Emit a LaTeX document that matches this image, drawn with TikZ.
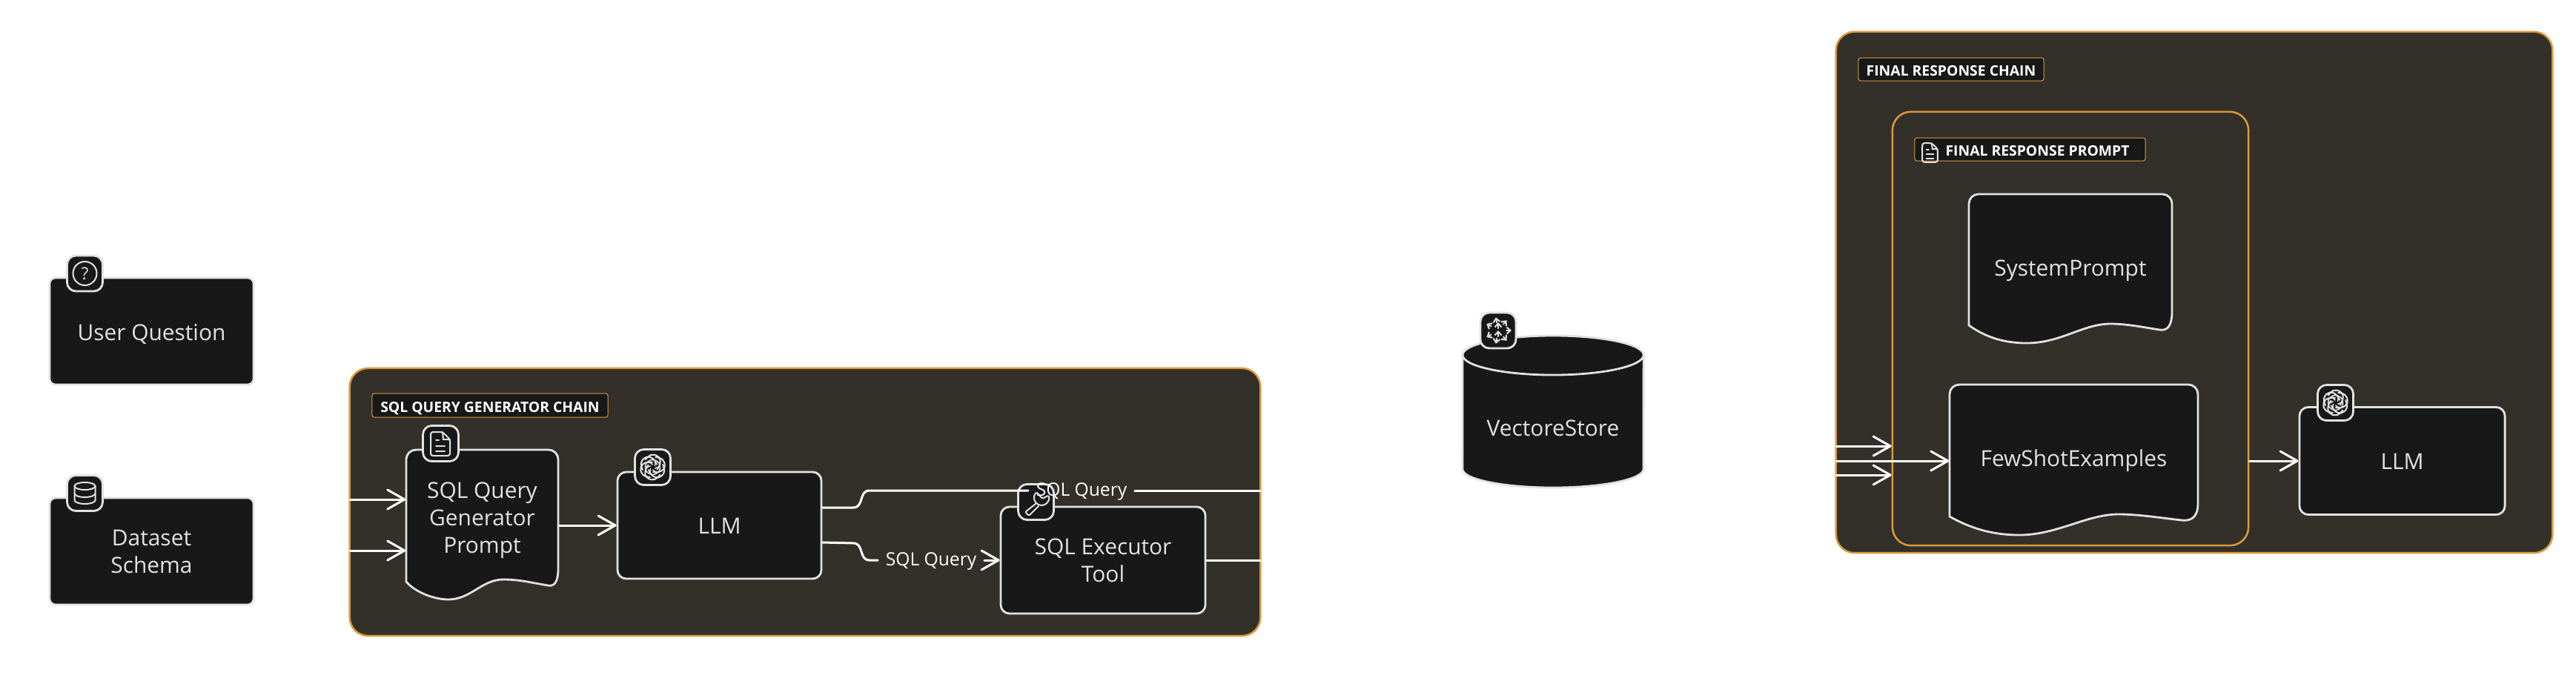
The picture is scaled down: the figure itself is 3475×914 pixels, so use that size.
\documentclass[tikz,border=0pt]{standalone}
\usepackage{fontspec}
\setmainfont{Open Sans}
\usetikzlibrary{arrows.meta}

\definecolor{boxfill}{HTML}{181818}
\definecolor{boxline}{HTML}{E2E2E2}
\definecolor{chainfill}{HTML}{33302A}
\definecolor{chainline}{HTML}{DD9A3C}

\tikzset{
  nodebox/.style={rectangle, draw=boxline, fill=boxfill, text=boxline, line width=0.028cm,
    rounded corners=0.12cm, inner sep=0pt, align=center, font=\fontsize{8.5}{10.5}\selectfont},
  doctext/.style={rectangle, text=boxline, inner sep=0pt, align=center, font=\fontsize{8.5}{10.5}\selectfont},
  docbox/.style={draw=boxline, fill=boxfill, line width=0.028cm},
  iconbox/.style={rectangle, draw=boxline, fill=boxfill, line width=0.028cm, rounded corners=0.12cm,
    minimum size=0.48cm, inner sep=0pt},
  iconline/.style={draw=boxline, line width=0.02cm},
  chainbox/.style={rectangle, draw=chainline, fill=chainfill, line width=0.025cm, rounded corners=0.25cm, inner sep=0pt},
  chainlabel/.style={rectangle, draw=chainline, fill=boxfill, text=white, line width=0.01cm, rounded corners=0.03cm,
    inner sep=0pt, text height=0.184cm, text depth=0pt, font=\fontsize{5.5}{7}\selectfont\bfseries},
  flowline/.style={draw=white, line width=0.03cm},
  flowarrow/.style={flowline, -{Straight Barb[length=0.23cm,width=0.26cm,round]}},
  flowlabel/.style={text=white, inner xsep=0.1cm, inner ysep=0pt, font=\fontsize{7}{9}\selectfont},
  smallarrow/.style={iconline, -{Straight Barb[length=0.05cm,width=0.09cm]}}
}

% openai knot, six rotated hooks
\newcommand{\gptlogo}[2]{
\begin{scope}[shift={(#1,#2)}]
\foreach \a in {0,60,...,300} {
\draw[iconline, rotate=\a, rounded corners=0.05cm] (-10,-10) -- (-3,-18) -- (9,-15) -- (11,-5) -- (6,3);
\draw[iconline, line width=0.015cm, rotate=\a, rounded corners=0.03cm] (-5,-8) -- (-1,-11) -- (4,-9) -- (3,-2);
}
\end{scope}
}

% page with a folded corner
\newcommand{\fileicon}[3]{
\begin{scope}[shift={(#1,#2)}, scale=#3]
\draw[iconline, rounded corners=0.03cm] (3,-16) -- (-13,-16) -- (-13,16) -- (13,16) -- (13,-6) -- cycle;
\draw[iconline] (3,-16) -- (4,-6) -- (13,-6);
\draw[iconline] (-6,-5) -- (-2,-5);
\draw[iconline] (-6,3) -- (6,3);
\draw[iconline] (-6,10) -- (6,10);
\end{scope}
}

\begin{document}
\begin{tikzpicture}[x=0.01cm, y=-0.01cm, cap=round]
\useasboundingbox (0,0) rectangle (3475,914);

% the two loose inputs
\node[nodebox, rounded corners=0.08cm, minimum width=2.75cm, minimum height=1.44cm, text height=0.24cm, text depth=0pt] (usrq) at (204.5,447) {User Question};
\node[iconbox] (usrqicon) at (114.5,369) {};
\draw[iconline] (usrqicon.center) circle[radius=0.16cm];
\node[text=boxline, inner sep=0pt, font=\fontsize{6.5}{7}\selectfont] (usrqmark) at (usrqicon.center) {?};

\node[nodebox, rounded corners=0.08cm, minimum width=2.75cm, minimum height=1.44cm] (schema) at (204.5,744) {Dataset\\Schema};
\node[iconbox] (schemaicon) at (114.5,665.5) {};
\draw[iconline] (114.5,656) ellipse[x radius=0.14cm, y radius=0.05cm];
\draw[iconline] (100.5,656) -- (100.5,675) arc[start angle=180, end angle=360, x radius=0.14cm, y radius=0.05cm] -- (128.5,656);
\draw[iconline] (100.5,666) arc[start angle=180, end angle=360, x radius=0.14cm, y radius=0.05cm];

% sql query generator chain
\node[chainbox, minimum width=12.28cm, minimum height=3.61cm] (sqlchain) at (1086,677.5) {};
\node[chainlabel, minimum width=3.18cm, minimum height=0.32cm] (sqllabel) at (661,547) {SQL QUERY GENERATOR CHAIN};
\coordinate (inone) at (472,674);
\coordinate (intwo) at (472,743);
\coordinate (outone) at (1700,662);
\coordinate (outtwo) at (1700,756);

\draw[docbox] (548,785) [rounded corners=0.13cm] -- (548,607) -- (753,607) [sharp corners] -- (753,767)
  .. controls (753,785) and (748,792) .. (739,790) .. controls (715,786) and (700,782) .. (679,782)
  .. controls (650,782) and (635,809) .. (605,809) .. controls (585,809) and (560,799) .. (548,785) -- cycle;
\node[doctext, minimum width=2.05cm, minimum height=1.86cm] (sqlprompt) at (650.5,702) {SQL Query\\Generator\\Prompt};
\node[iconbox] (sqlprompticon) at (594.5,598.5) {};
\fileicon{594}{599}{1}

\node[nodebox, minimum width=2.75cm, minimum height=1.44cm, text height=0.22cm, text depth=0pt] (llmone) at (970.5,709) {LLM};
\node[iconbox] (llmoneicon) at (880.5,630.5) {};
\gptlogo{880.5}{630.5}

\node[nodebox, minimum width=2.76cm, minimum height=1.44cm] (executor) at (1488,756) {SQL Executor\\Tool};
\node[iconbox] (executoricon) at (1397.5,677.5) {};
\draw[iconline, rounded corners=0.02cm] (1398.6,664.3) arc[start angle=130, end angle=380, radius=0.10cm] -- (1406,673) -- cycle;
\draw[iconline, rounded corners=0.02cm] (1397,680) -- (1383,691) -- (1388,696) -- (1401,683);

\node[flowlabel] (queryone) at (1459,664) {SQL Query};
\node[flowlabel] (querytwo) at (1256,758) {SQL Query};

\draw[flowarrow] (inone) -- (sqlprompt.west |- inone);
\draw[flowarrow] (intwo) -- (sqlprompt.west |- intwo);
\draw[flowarrow] (sqlprompt.east |- llmone.west) -- (llmone.west);
\draw[flowline] ([yshift=0.24cm]llmone.east) -- (1151,685) .. controls (1166,685) and (1158,662) .. (1173,662) -- (queryone.west |- outone);
\draw[flowline] (queryone.east |- outone) -- (outone);
\draw[flowline] ([yshift=-0.23cm]llmone.east) -- (1151,733) .. controls (1166,733) and (1158,756) .. (1173,756) -- (querytwo.west |- outtwo);
\draw[flowarrow] (querytwo.east |- outtwo) -- (executor.west);
\draw[flowline] (executor.east) -- (outtwo);

% the vector store
\draw[docbox] (1973,479) arc[start angle=180, end angle=0, x radius=1.22cm, y radius=0.26cm] -- (2217,633)
  arc[start angle=0, end angle=-180, x radius=1.22cm, y radius=0.25cm] -- cycle;
\draw[docbox] (1973,479) arc[start angle=180, end angle=360, x radius=1.22cm, y radius=0.27cm];
\node[doctext] (vectorstore) at (2095,578) {VectoreStore};
\node[iconbox] (vectoricon) at (2021,446) {};
\foreach \a in {-150,-100,...,150} {
\draw[smallarrow] ([shift={(\a:11)}]vectoricon.center) -- ([shift={(\a:18)}]vectoricon.center);
}
\foreach \b in {-3,8} {
\draw[smallarrow] ([yshift=-\b*0.01cm]vectoricon.center) -- ([yshift=-\b*0.01cm+0.08cm]vectoricon.center);
}
\fill[boxline] (2019,461) circle[radius=0.02cm];

% final response chain
\node[chainbox, minimum width=9.66cm, minimum height=7.03cm] (finalchain) at (2960,394.5) {};
\node[chainlabel, minimum width=2.50cm, minimum height=0.31cm] (finallabel) at (2632,93.5) {FINAL RESPONSE CHAIN};
\node[chainbox, minimum width=4.80cm, minimum height=5.85cm] (finalprompt) at (2793,443.5) {};
\node[chainlabel, minimum width=3.11cm, minimum height=0.31cm] (promptlabel) at (2738.5,201.5) {\hspace{0.2cm}FINAL RESPONSE PROMPT};
\fileicon{2603.5}{206}{0.8}
\coordinate (inthree) at (2477,602);
\coordinate (infour) at (2477,622);
\coordinate (infive) at (2477,641);

\draw[docbox] (2656,439) [rounded corners=0.13cm] -- (2656,262) -- (2930,262) [sharp corners] -- (2930,420)
  .. controls (2930,438) and (2925,447) .. (2913,445) .. controls (2893,442) and (2870,437) .. (2847,437)
  .. controls (2810,437) and (2780,463) .. (2734,463) .. controls (2705,463) and (2680,456) .. (2656,439) -- cycle;
\node[doctext, minimum width=2.74cm, minimum height=2.00cm] (systemprompt) at (2793,365) {SystemPrompt};

\draw[docbox] (2630,697) [rounded corners=0.13cm] -- (2630,519) -- (2965,519) [sharp corners] -- (2965,680)
  .. controls (2965,695) and (2958,704) .. (2943,702) .. controls (2915,699) and (2885,694) .. (2858,694)
  .. controls (2815,694) and (2775,722) .. (2724,722) .. controls (2690,722) and (2660,714) .. (2630,697) -- cycle;
\node[doctext, minimum width=3.35cm, minimum height=2.06cm] (fewshot) at (2797.5,622) {FewShotExamples};

\node[nodebox, minimum width=2.77cm, minimum height=1.45cm, text height=0.22cm, text depth=0pt] (llmtwo) at (3240.5,622) {LLM};
\node[iconbox] (llmtwoicon) at (3150.5,543.5) {};
\gptlogo{3150.5}{543.5}

\draw[flowarrow] (inthree) -- (finalprompt.west |- inthree);
\draw[flowarrow] (infour) -- (fewshot.west);
\draw[flowarrow] (infive) -- (finalprompt.west |- infive);
\draw[flowarrow] (finalprompt.east |- llmtwo.west) -- (llmtwo.west);
\end{tikzpicture}
\end{document}
